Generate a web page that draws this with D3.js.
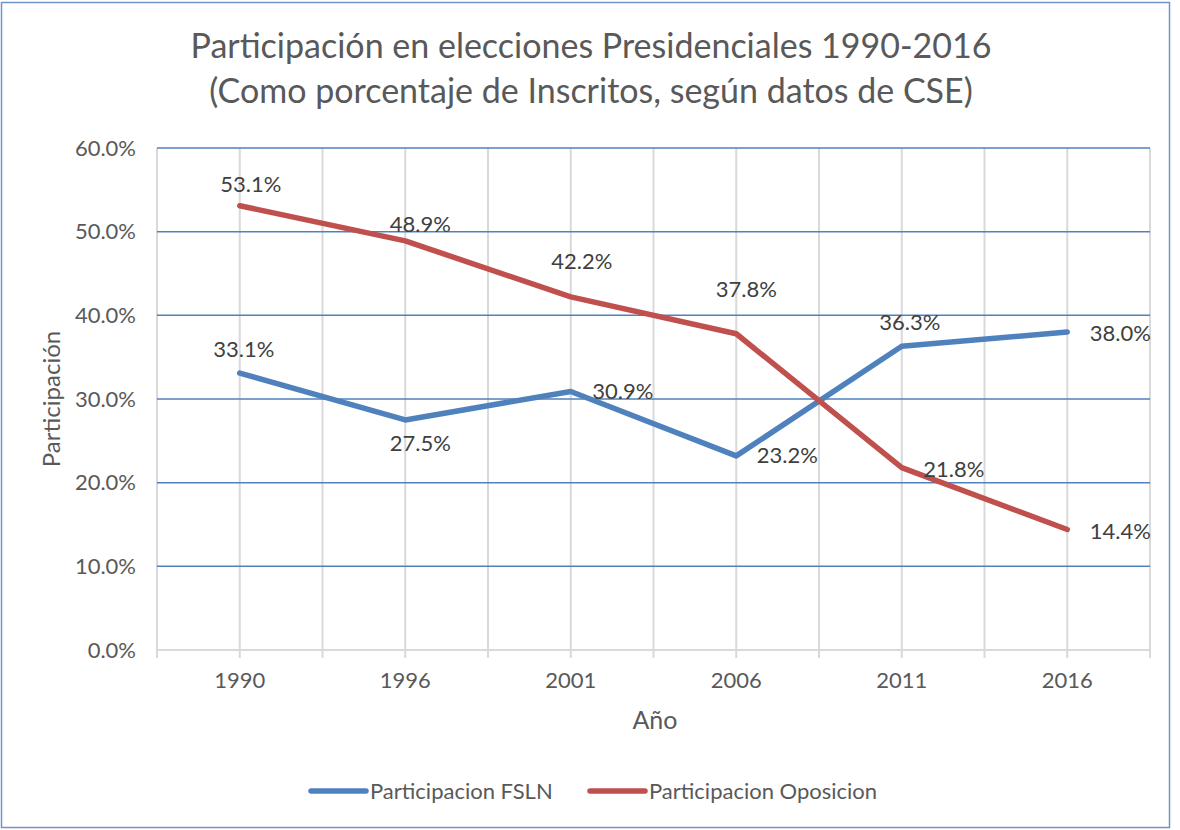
<!DOCTYPE html>
<html>
<head>
<meta charset="utf-8">
<script src="https://cdn.jsdelivr.net/npm/d3@7"></script>
<style>
  body { margin: 0; background: #fff; }
  text { font-family: Lato, "Open Sans", sans-serif; fill: #595959; }
</style>
</head>
<body>
<div id="chart"></div>
<script>
// chart values
var years = ["1990", "1996", "2001", "2006", "2011", "2016"];
var fsln = [33.1, 27.5, 30.9, 23.2, 36.3, 38.0];
var oposicion = [53.1, 48.9, 42.2, 37.8, 21.8, 14.4];
var yTicks = [0, 10, 20, 30, 40, 50, 60];
var seriesNames = ["Participacion FSLN", "Participacion Oposicion"];
var titleLines = ["Participación en elecciones Presidenciales 1990-2016",
                  "(Como porcentaje de Inscritos, según datos de CSE)"];
// data label shift (centre of text vs. its point), as placed by hand in the original
var fslnLabelShift = [[4, -16], [15, 31], [52, 8], [51, 7], [8, -16], [53, 9]];
var oposLabelShift = [[11, -14], [15, -9], [11, -28], [10, -37], [52, 9], [53, 9]];

var W = 1180, H = 830;
var blue = "#4f81bd", red = "#c0504d";

var svg = d3.select("#chart").append("svg")
	.attr("width", W)
	.attr("height", H);

// (border) chart area frame
svg.append("rect")
	.attr("x", 1.5).attr("y", 2.5)
	.attr("width", 1168).attr("height", 825)
	.attr("fill", "#fff")
	.attr("stroke", "#7094c9")
	.attr("stroke-width", 1.5);

// (title)
svg.append("g").selectAll("text")
	.data(titleLines)
	.enter()
	.append("text")
	.attr("x", 591)
	.attr("y", function(d, i) { return 58 + i * 45; })
	.attr("text-anchor", "middle")
	.attr("font-size", "34px")
	.text(function(d) { return d; });

// scales: categories sit mid-band, boundaries at band edges
var x = d3.scaleBand().domain(years).range([157, 1150]).padding(0);
var y = d3.scaleLinear().domain([0, 60]).range([650, 148]);
var cx = function(d) { return x(d) + x.bandwidth() / 2; };

// (grid) vertical lines at band edges and category centres
var vLines = [];
years.forEach(function(d) { vLines.push(x(d)); vLines.push(cx(d)); });
vLines.push(x.range()[1]);
svg.append("g").selectAll("line")
	.data(vLines)
	.enter()
	.append("line")
	.attr("x1", function(d) { return d; })
	.attr("x2", function(d) { return d; })
	.attr("y1", y(60))
	.attr("y2", y(0) + 8)
	.attr("stroke", "#d9d9d9")
	.attr("stroke-width", 2);

// (grid) horizontal lines
svg.append("g").selectAll("line")
	.data(yTicks.filter(function(d) { return d > 0; }))
	.enter()
	.append("line")
	.attr("x1", 157).attr("x2", 1150)
	.attr("y1", function(d) { return y(d); })
	.attr("y2", function(d) { return y(d); })
	.attr("stroke", blue)
	.attr("stroke-width", 1.5);

// x axis line
svg.append("line")
	.attr("x1", 157).attr("x2", 1150)
	.attr("y1", y(0)).attr("y2", y(0))
	.attr("stroke", "#d9d9d9")
	.attr("stroke-width", 2);

// (y axis) tick labels
var yAxis = svg.append("g")
	.attr("transform", "translate(136,0)")
	.call(d3.axisLeft(y).tickValues(yTicks).tickSize(0).tickPadding(0)
		.tickFormat(function(d) { return d.toFixed(1) + "%"; }));
yAxis.select(".domain").remove();
yAxis.selectAll("text")
	.attr("font-size", "22px")
	.attr("font-family", "Lato, sans-serif")
	.attr("fill", "#595959");

// (x axis) tick labels
var xAxis = svg.append("g")
	.attr("transform", "translate(0,672)")
	.call(d3.axisBottom(x).tickSize(0).tickPadding(0));
xAxis.select(".domain").remove();
xAxis.selectAll("text")
	.attr("font-size", "22px")
	.attr("font-family", "Lato, sans-serif")
	.attr("fill", "#595959");

// axis titles
svg.append("text")
	.attr("x", 655).attr("y", 729)
	.attr("text-anchor", "middle")
	.attr("font-size", "25px")
	.text("Año");
svg.append("text")
	.attr("transform", "translate(60,399) rotate(-90)")
	.attr("text-anchor", "middle")
	.attr("font-size", "24px")
	.text("Participación");

// (lines)
var line = d3.line()
	.x(function(d, i) { return cx(years[i]); })
	.y(function(d) { return y(d); });
var series = [
	{name: seriesNames[0], values: fsln, color: blue, shift: fslnLabelShift},
	{name: seriesNames[1], values: oposicion, color: red, shift: oposLabelShift}
];
svg.append("g").selectAll("path")
	.data(series)
	.enter()
	.append("path")
	.attr("d", function(d) { return line(d.values); })
	.attr("fill", "none")
	.attr("stroke", function(d) { return d.color; })
	.attr("stroke-width", 5.5)
	.attr("stroke-linecap", "round")
	.attr("stroke-linejoin", "round");

// (labels) data labels
series.forEach(function(s) {
	svg.append("g").selectAll("text")
		.data(s.values)
		.enter()
		.append("text")
		.attr("x", function(d, i) { return cx(years[i]) + s.shift[i][0]; })
		.attr("y", function(d, i) { return y(d) + s.shift[i][1]; })
		.attr("text-anchor", "middle")
		.attr("font-size", "22px")
		.style("fill", "#404040")
		.text(function(d) { return d.toFixed(1) + "%"; });
});

// (legend)
var legend = svg.append("g");
var legendX = [311, 590];
series.forEach(function(s, i) {
	legend.append("line")
		.attr("x1", legendX[i]).attr("x2", legendX[i] + 55)
		.attr("y1", 791).attr("y2", 791)
		.attr("stroke", s.color)
		.attr("stroke-width", 5.5)
		.attr("stroke-linecap", "round");
	legend.append("text")
		.attr("x", legendX[i] + 59)
		.attr("y", 799)
		.attr("font-size", "22px")
		.text(s.name);
});
</script>
</body>
</html>
